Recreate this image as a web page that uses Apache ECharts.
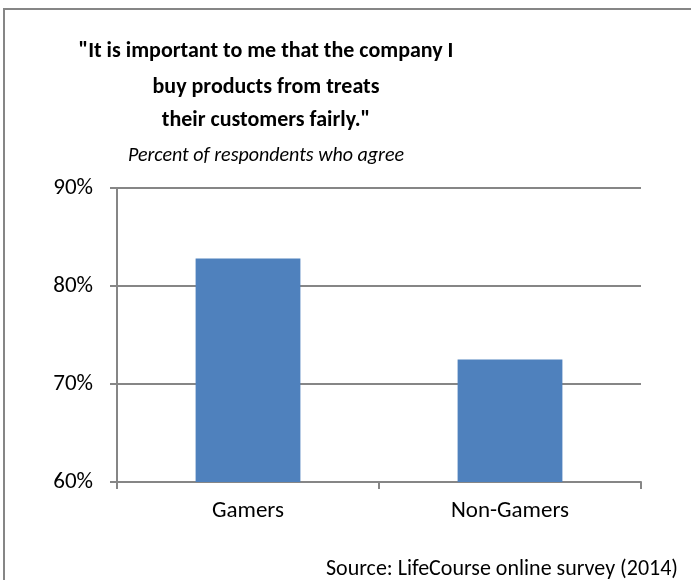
<!DOCTYPE html>
<html>
<head>
<meta charset="utf-8">
<style>
  html, body { margin: 0; padding: 0; background: #ffffff; }
  #chart { width: 691px; height: 580px; }
</style>
<script src="https://cdn.jsdelivr.net/npm/echarts@6/dist/echarts.min.js"></script>
</head>
<body>
<div id="chart"></div>
<script>
// Survey categories and share of respondents who agree (%)
const categories = ['Gamers', 'Non-Gamers'];
const agreePercent = [82.8, 72.5];

// Value axis range and tick step (%)
const yMin = 60;
const yMax = 90;
const yStep = 10;

const titleLines = [
  '"It is important to me that the company I',
  'buy products from treats',
  'their customers fairly."'
];
const subtitleText = 'Percent of respondents who agree';
const sourceText = 'Source: LifeCourse online survey (2014)';

const FONT = "Carlito, 'Open Sans', sans-serif";
const GRAY = '#868686';
const BAR = '#4F81BD';

const titleTops = [35, 71, 104];
const titles = titleLines.map((line, i) => ({
  text: line,
  left: 261,
  top: titleTops[i],
  textAlign: 'center',
  textStyle: { fontFamily: FONT, fontWeight: 'bold', fontSize: 22, color: '#000' }
}));
titles.push({
  text: subtitleText,
  left: 261,
  top: 141,
  textAlign: 'center',
  textStyle: { fontFamily: FONT, fontStyle: 'italic', fontWeight: 'normal', fontSize: 20, color: '#000' }
});
titles.push({
  text: sourceText,
  right: 8,
  top: 553,
  textStyle: { fontFamily: FONT, fontWeight: 'normal', fontSize: 22, color: '#000' }
});

const chart = echarts.init(document.getElementById('chart'), null, { renderer: 'canvas' });

chart.setOption({
  backgroundColor: '#ffffff',
  animation: false,
  title: titles,
  graphic: [{
    type: 'rect',
    shape: { x: 4, y: 9, width: 720, height: 620 },
    style: { fill: 'none', stroke: GRAY, lineWidth: 2 },
    silent: true
  }],
  grid: { left: 117, right: 50, top: 188, bottom: 98, containLabel: false },
  xAxis: {
    type: 'category',
    data: categories,
    axisLine: { show: true, lineStyle: { color: GRAY, width: 2 } },
    axisTick: { show: true, length: 7, alignWithLabel: false, lineStyle: { color: GRAY, width: 2 } },
    axisLabel: { margin: 18, fontFamily: FONT, fontSize: 23, color: '#000' }
  },
  yAxis: {
    type: 'value',
    min: yMin,
    max: yMax,
    interval: yStep,
    axisLine: { show: true, lineStyle: { color: GRAY, width: 2 } },
    axisTick: { show: true, length: 7, inside: false, lineStyle: { color: GRAY, width: 2 } },
    axisLabel: { margin: 24, fontFamily: FONT, fontSize: 23, color: '#000', formatter: '{value}%' },
    splitLine: { show: true, lineStyle: { color: GRAY, width: 2 } }
  },
  series: [{
    type: 'bar',
    data: agreePercent,
    barCategoryGap: '60%',
    itemStyle: { color: BAR },
    z: 3
  }]
});
</script>
</body>
</html>
